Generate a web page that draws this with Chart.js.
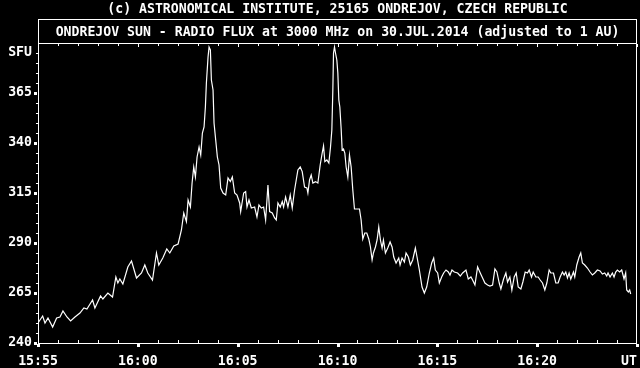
<!DOCTYPE html>
<html>
<head>
<meta charset="utf-8">
<script src="https://cdn.jsdelivr.net/npm/chart.js@4/dist/chart.umd.min.js"></script>
<style>
html,body{margin:0;padding:0;background:#000;}
canvas{display:block;}
</style>
</head>
<body>
<canvas id="c" width="640" height="368"></canvas>
<script>
// Seconds after 15:55:00 UT
const times = [0,14,21,30,44,56,66,75,87,98,111,126,138,147,164,171,188,195,210,224,234,240,246,255,270,281,296,311,321,330,344,356,363,375,387,396,408,421,431,438,446,451,458,463,468,473,478,484,489,494,499,503,506,511,514,518,521,526,529,534,539,544,549,556,564,571,578,584,591,598,606,609,618,624,628,634,641,651,658,664,671,678,684,691,696,704,711,716,721,728,734,738,744,751,758,764,771,776,781,788,794,801,808,811,816,821,826,834,841,848,854,858,862,868,874,879,883,886,888,891,894,898,901,904,907,911,914,918,922,926,931,936,941,946,951,958,966,971,976,982,988,994,999,1004,1008,1014,1019,1024,1029,1034,1038,1044,1051,1058,1064,1069,1076,1084,1088,1094,1101,1106,1113,1119,1126,1134,1139,1146,1154,1161,1168,1176,1183,1189,1194,1201,1206,1213,1219,1226,1233,1238,1244,1251,1261,1269,1276,1286,1293,1301,1306,1313,1321,1329,1336,1343,1351,1358,1366,1373,1379,1386,1391,1399,1406,1411,1418,1424,1431,1437,1443,1451,1457,1464,1471,1476,1483,1488,1496,1503,1509,1516,1523,1529,1536,1541,1549,1556,1563,1569,1576,1581,1586,1591,1596,1601,1609,1613,1619,1626,1631,1636,1643,1651,1659,1666,1673,1681,1689,1696,1703,1709,1713,1719,1726,1731,1736,1741,1748,1754,1761,1766,1769,1774,1778,1781];
// Radio flux, SFU
const flux = [250,253.5,250,252.5,248,252.5,253,256,253,251,253,255,257.5,257,261.5,257.5,263.5,262,265,263,273,270,272,269.5,278,281,272.5,275,279,275,271.5,285,279,282.5,287,285,288.5,289.5,296.5,305,300.7,311.5,308,320,328,323,333,338,334,345,348,358,370,383,388,386.5,371.5,366.5,350,341.5,333,329,317.5,315,314,322.5,320.7,323,315,314,310,305.7,315,315.7,308,311.5,307.5,308,303,309,307.5,308,301.5,319,305.7,305,302.5,301.5,310,308,310.7,308,313,308,314,307.5,316.5,321.5,326.5,328,325.7,318,317.5,315,321.5,324,320,320.7,320,329,335,338.5,330.7,331.5,330,338,346.5,366.5,385,388,385,381.5,375,361.5,358,347,336.5,337,335,328,323,334,328,316.5,307,307,307,301.5,292,295,295,292,288,281.5,285,288,291.5,298,291.5,287.5,291.5,285,287.5,290.5,288,283,280,282.5,279,282.5,280.5,285,283,279,281.5,287.5,283,276.5,268,265,268,275,280,282.5,276.5,275,270,273,275,276.5,275.5,274,276.5,275.5,275,273.5,275,276.5,272,273,271.5,269,278,275,272.5,270,269,268.5,269,277,275.5,270,267,272,275,270.5,273,266.5,273,275,268,267,270.5,275.5,275,276.5,273,275.5,273,273,271.5,270,266.5,270,276.5,275,275,270,270,273,275.5,274,275.5,272.5,275,272,275.5,273,279,283,285,280,279,277.5,275.5,274,275,276.5,276,274.5,275,273.5,275,273,275,273,275.5,276.5,275.5,276.5,272,275,266.5,265.5,266.5,264.5];

const xTickValues = [0,300,600,900,1200,1500,1800];
const xTickLabels = ['15:55','16:00','16:05','16:10','16:15','16:20','UT'];
const yTickValues = [240,265,290,315,340,365,385];
const yTickLabels = ['240','265','290','315','340','365','SFU'];

const topLine = '(c) ASTRONOMICAL INSTITUTE, 25165 ONDREJOV, CZECH REPUBLIC';
const chartTitle = 'ONDREJOV SUN - RADIO FLUX at 3000 MHz on 30.JUL.2014 (adjusted to 1 AU)';

const FONT = {family:'"DejaVu Sans Mono", "Liberation Mono", monospace', size:13.2, weight:'bold', lineHeight:1};

const frame = {
  id:'frame',
  beforeDraw(c){
    const ctx=c.ctx; ctx.save(); ctx.fillStyle='#000'; ctx.fillRect(0,0,c.width,c.height); ctx.restore();
  },
  afterDraw(c){
    const ctx=c.ctx, a=c.chartArea, xs=c.scales.x, ys=c.scales.y;
    const L=Math.round(a.left), R=Math.round(a.right), T=Math.round(a.top), B=Math.round(a.bottom);
    ctx.save();
    ctx.strokeStyle='#fff'; ctx.fillStyle='#fff'; ctx.lineWidth=1;
    // plot frame
    ctx.strokeRect(L+0.5, T+0.5, (R-0.5)-(L+0.5), (B+0.5)-(T+0.5));
    // title box
    ctx.strokeRect(L+0.5, 19.5, (R-0.5)-(L+0.5), T-19);
    // x ticks every minute
    for(let s=0;s<=1800;s+=60){
      const px=Math.round(xs.getPixelForValue(s));
      const major = s%300===0;
      if(major){
        ctx.fillRect(px-1, B+1, 3, 3);
        ctx.fillRect(px, T+1, 1, 3);
      } else {
        ctx.fillRect(px, B-3, 1, 3);
        ctx.fillRect(px, T+1, 1, 2);
      }
    }
    // y ticks every 5 SFU
    for(let v=245;v<390;v+=5){
      const py=Math.round(ys.getPixelForValue(v));
      if((v-240)%25===0 && v<=365){
        ctx.fillRect(L-4, py-1, 3, 3);
      } else {
        ctx.fillRect(L-2, py, 2, 1);
      }
    }
    ctx.fillRect(L-4, B-1, 3, 3);
    ctx.restore();
  }
};

new Chart(document.getElementById('c'), {
  type:'line',
  data:{
    datasets:[{
      data: times.map((t,i)=>({x:t, y:flux[i]})),
      borderColor:'#fff',
      borderWidth:1.2,
      pointRadius:0,
      tension:0,
      fill:false
    }]
  },
  options:{
    responsive:false,
    animation:false,
    devicePixelRatio:1,
    layout:{padding:{left:0,right:3,top:0,bottom:0}},
    plugins:{
      legend:{display:false},
      tooltip:{enabled:false},
      title:{display:true, text:topLine, color:'#fff', font:FONT, padding:{top:3,bottom:2}, fullSize:false},
      subtitle:{display:true, text:chartTitle, color:'#fff', font:FONT, padding:{top:7.8,bottom:3.8}, fullSize:false}
    },
    scales:{
      x:{
        type:'linear', min:0, max:1800,
        grid:{display:false, drawTicks:false},
        border:{display:false},
        afterBuildTicks:s=>{ s.ticks = xTickValues.map(v=>({value:v})); },
        afterFit:s=>{ s.height=25; s.paddingLeft=0; s.paddingRight=0; },
        ticks:{
          color:'#fff', font:FONT, padding:12, autoSkip:false, maxRotation:0,
          callback:(v,i)=> i===xTickLabels.length-1 ? xTickLabels[i]+'  ' : xTickLabels[i]
        }
      },
      y:{
        type:'linear', min:240, max:390,
        grid:{display:false, drawTicks:false},
        border:{display:false},
        afterBuildTicks:s=>{ s.ticks = yTickValues.map(v=>({value:v})); },
        afterFit:s=>{ s.width=38; s.paddingTop=0; s.paddingBottom=0; },
        ticks:{
          color:'#fff', font:FONT, padding:6, autoSkip:false,
          callback:(v,i)=> yTickLabels[i]
        }
      }
    }
  },
  plugins:[frame]
});
</script>
</body>
</html>
